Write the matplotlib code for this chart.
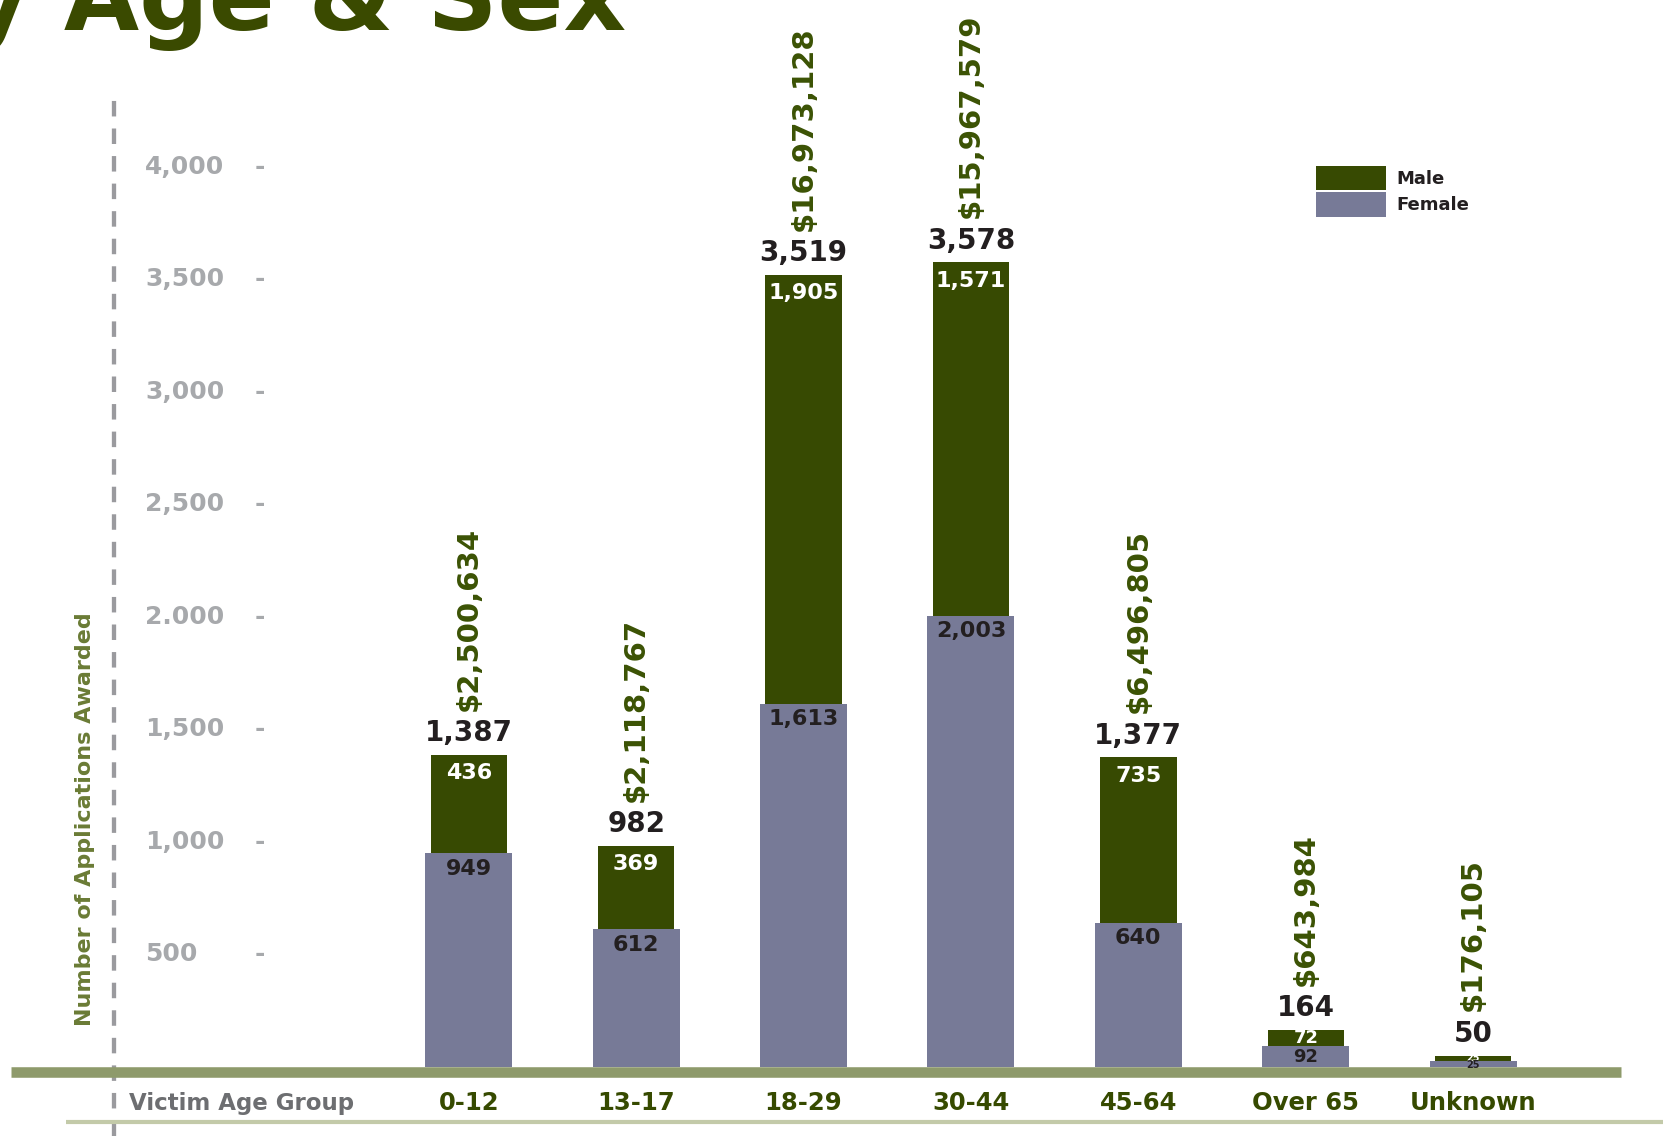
import numpy as np
import matplotlib
matplotlib.use('Agg')
from matplotlib import pyplot as plt
from matplotlib.patches import Patch
from matplotlib.transforms import blended_transform_factory

# data
groups = ['0-12', '13-17', '18-29', '30-44', '45-64', 'Over 65', 'Unknown']
female = [949, 612, 1613, 2003, 640, 92, 25]
male = [436, 369, 1905, 1571, 735, 72, 25]
totals = [1387, 982, 3519, 3578, 1377, 164, 50]
awards = [2500634, 2118767, 16973128, 15967579, 6496805, 643984, 176105]

tick_values = [4000, 3500, 3000, 2500, 2000, 1500, 1000, 500]
tick_labels = ['4,000', '3,500', '3,000', '2,500', '2.000', '1,500', '1,000', '500']

MALE = '#374a02'
FEMALE = '#777a97'
DARK = '#231f20'
GREEN_TXT = '#3b5204'
CAT_TXT = '#364a00'
TICK_GRAY = '#a7a9ac'

plt.rcParams['font.family'] = ['DejaVu Sans']
plt.rcParams['font.weight'] = 'bold'

fig = plt.figure(figsize=(16.63, 11.36), dpi=100)
ax = fig.add_axes([0, 0, 1, 1])
ax.set_xlim(-2.80, 7.134)
ax.set_ylim(-306.5, 4740)
ax.axis('off')

x = np.arange(len(groups))
female = np.array(female)
male = np.array(male)

ax.bar(x, female, width=0.52, color=FEMALE, zorder=2)
ax.bar(x, male, width=0.456, bottom=female, color=MALE, zorder=2)

# baseline band and lower rule
ax.axhline(-23.5, xmin=0.0066, xmax=0.9747, lw=7.6, color='#8e9a6b',
           solid_capstyle='butt', zorder=3)
ax.axhline(-244, xmin=0.0397, xmax=1.0, lw=3, color='#c3caa9',
           solid_capstyle='butt', zorder=3)

trans = blended_transform_factory(ax.transAxes, ax.transData)
ax.plot([0.0683, 0.0683], [-306.5, 4327], transform=trans, color='#9a9a9e',
        lw=3.1, dashes=(3.6, 2.8), zorder=1)

# y ticks drawn as text
for v, lab in zip(tick_values, tick_labels):
    ax.text(0.0872, v, lab, transform=trans, ha='left', va='center',
            fontsize=18, fontweight='bold', color=TICK_GRAY)
    ax.text(0.156, v, '-', transform=trans, ha='center', va='center',
            fontsize=18, fontweight='bold', color=TICK_GRAY)

ax.text(0.0511, 1102, 'Number of Applications Awarded', transform=trans,
        rotation=90, ha='center', va='center', fontsize=16, fontweight='bold',
        color='#6a7b35')

ax.text(242 / 1663, -160, 'Victim Age Group', transform=trans, ha='center',
        va='center', fontsize=16.5, fontweight='bold', color='#6d6e71')

for i, g in enumerate(groups):
    ax.text(i, -160, g, ha='center', va='center', fontsize=17.5,
            fontweight='bold', color=CAT_TXT)

# labels on bars
for i in range(len(groups)):
    f, m = female[i], male[i]
    top = f + m
    if m >= 150:
        ax.annotate(f'{m:,}', (i, top), xytext=(0, -13), textcoords='offset points',
                    ha='center', va='center', fontsize=16, fontweight='bold',
                    color='white', zorder=4)
    elif m >= 50:
        ax.text(i, f + m / 2, f'{m:,}', ha='center', va='center', fontsize=13,
                fontweight='bold', color='white', zorder=4)
    else:
        ax.annotate(f'{m:,}', (i, top), xytext=(0, -1.5), textcoords='offset points',
                    ha='center', va='center', fontsize=7, fontweight='bold',
                    color='white', zorder=4)
    if f >= 150:
        ax.annotate(f'{f:,}', (i, f), xytext=(0, -11), textcoords='offset points',
                    ha='center', va='center', fontsize=16, fontweight='bold',
                    color=DARK, zorder=4)
    elif f >= 50:
        ax.text(i, f / 2, f'{f:,}', ha='center', va='center', fontsize=13,
                fontweight='bold', color=DARK, zorder=4)
    else:
        ax.annotate(f'{f:,}', (i, 0), xytext=(0, 1.5), textcoords='offset points',
                    ha='center', va='center', fontsize=7, fontweight='bold',
                    color=DARK, zorder=4)
    ax.annotate(f'{totals[i]:,}', (i, top), xytext=(0, 10), textcoords='offset points',
                ha='center', va='baseline', fontsize=20, fontweight='bold', color=DARK)
    ax.annotate(f'${awards[i]:,}', (i, top), xytext=(0, 32), textcoords='offset points',
                rotation=90, ha='center', va='bottom', fontsize=21,
                fontweight='bold', color=GREEN_TXT)

# title, cut by the top edge as in the source page
fig.text(626 / 1663, 1 - 30 / 1136, 'by Age & Sex', ha='right', va='baseline',
         fontsize=70, fontweight='heavy', color='#3a4a00')

handles = [Patch(facecolor=MALE, label='Male'), Patch(facecolor=FEMALE, label='Female')]
ax.legend(handles=handles, loc='upper left', bbox_to_anchor=(0.7862, 0.8618),
          bbox_transform=fig.transFigure, frameon=False, borderpad=0,
          handlelength=3.83, handleheight=1.7, labelspacing=0.1,
          handletextpad=0.6, prop={'size': 13, 'weight': 'bold'}, labelcolor=DARK)

fig.savefig('out.png', dpi=100)
